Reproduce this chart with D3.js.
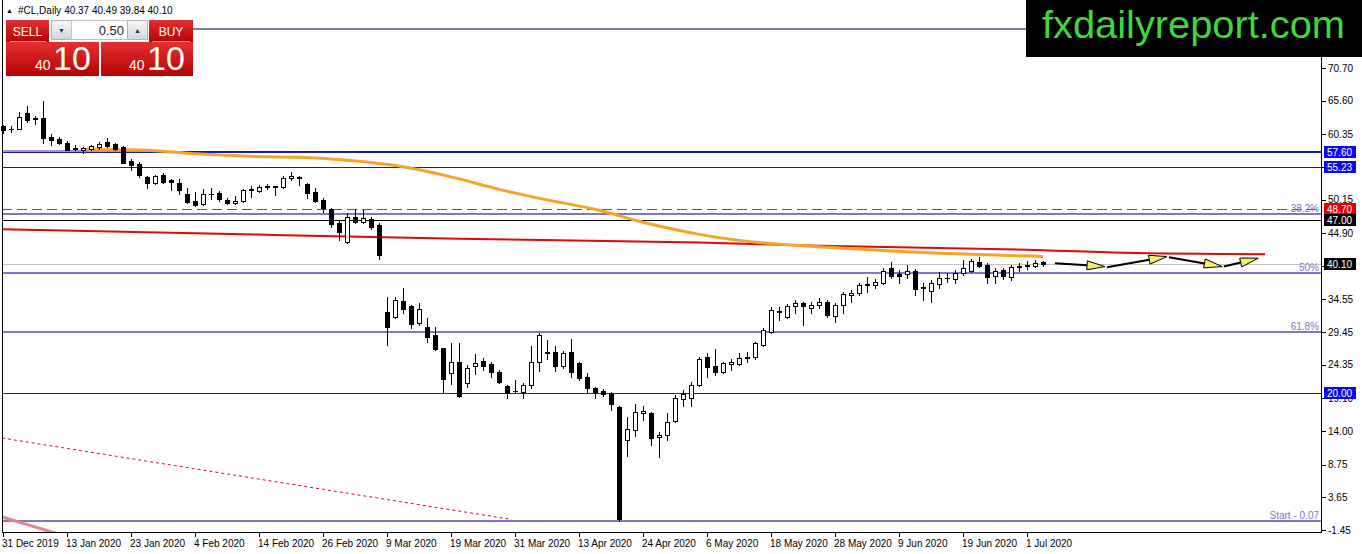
<!DOCTYPE html>
<html>
<head>
<meta charset="utf-8">
<script src="https://cdn.jsdelivr.net/npm/d3@7"></script>
<style>
body { margin: 0; background: #fff; }
text { font-family: "Liberation Sans", Arial, sans-serif; }
</style>
</head>
<body>
<div id="chart"></div>
<script>
// bottom axis labels and the bar they sit on
var tickLabels = ["31 Dec 2019", "13 Jan 2020", "23 Jan 2020", "4 Feb 2020", "14 Feb 2020", "26 Feb 2020",
    "9 Mar 2020", "19 Mar 2020", "31 Mar 2020", "13 Apr 2020", "24 Apr 2020", "6 May 2020",
    "18 May 2020", "28 May 2020", "9 Jun 2020", "19 Jun 2020", "1 Jul 2020"];
var tickBars = [0, 8, 16, 24, 32, 40, 48, 56, 64, 72, 80, 88, 96, 104, 112, 120, 128];

var priceTicks = [70.70, 65.60, 60.35, 55.25, 50.15, 44.90, 39.80, 34.55, 29.45, 24.35, 19.10, 14.00, 8.75, 3.65, -1.45];

// daily candles, #CL
var opens = [61.67, 61.20, 61.20, 63.70, 62.92, 62.92, 59.95, 59.64, 59.02, 58.24, 57.92, 58.08, 58.39, 59.17, 58.86, 58.39,
    56.20, 55.74, 53.70, 52.77, 54.02, 53.23, 52.77, 51.05, 49.95, 49.48, 50.95, 51.20, 50.11, 49.64, 49.95, 51.67,
    51.52, 52.14, 52.30, 52.14, 53.55, 53.70, 52.61, 51.36, 50.11, 48.70, 46.52, 43.55, 47.45, 46.67, 47.14, 46.20,
    32.61, 31.83, 34.33, 33.55, 30.89, 30.27, 29.02, 26.98, 23.08, 24.80, 21.52, 24.17, 24.95, 24.48, 23.23, 21.05,
    20.27, 20.11, 21.20, 24.80, 26.36, 26.36, 24.17, 26.36, 24.64, 22.45, 20.73, 20.27, 19.95, 17.77, 12.61, 14.17,
    16.83, 16.83, 13.08, 13.39, 15.58, 19.02, 19.17, 21.20, 25.58, 24.17, 23.23, 24.48, 24.48, 25.42, 25.58, 27.45,
    29.48, 32.77, 31.83, 33.55, 34.02, 33.23, 33.70, 34.17, 31.98, 33.70, 35.27, 35.58, 36.83, 36.83, 37.14, 39.48,
    38.55, 38.55, 39.02, 36.52, 35.89, 36.98, 37.92, 37.77, 38.70, 39.02, 40.42, 39.95, 38.23, 39.17, 38.08, 39.64,
    39.80, 39.80, 40.37];
var highs = [61.83, 61.67, 63.86, 64.80, 63.24, 65.58, 60.42, 59.95, 59.33, 58.70, 58.39, 58.70, 59.17, 59.80, 59.02, 58.55,
    56.52, 56.05, 53.86, 54.02, 54.33, 53.39, 53.39, 51.98, 51.36, 51.83, 51.98, 51.52, 50.42, 50.73, 51.83, 52.30,
    52.45, 52.61, 52.35, 53.86, 54.48, 53.86, 52.77, 51.98, 50.42, 48.86, 46.98, 48.08, 48.70, 48.55, 47.45, 46.52,
    34.95, 34.95, 36.36, 33.70, 34.02, 31.67, 30.27, 27.05, 27.77, 27.77, 24.33, 26.05, 25.42, 24.80, 23.55, 21.20,
    21.98, 21.52, 27.30, 29.33, 28.23, 27.30, 26.52, 28.39, 24.80, 23.08, 20.89, 20.58, 20.11, 17.92, 16.20, 18.23,
    17.92, 16.98, 13.86, 16.83, 19.64, 20.42, 21.67, 25.58, 26.20, 26.83, 24.80, 25.27, 26.20, 26.36, 27.92, 30.11,
    33.39, 33.39, 33.86, 34.49, 34.17, 34.17, 34.80, 34.49, 34.02, 35.73, 36.05, 37.14, 38.08, 37.77, 39.48, 40.42,
    39.17, 39.95, 39.33, 37.14, 37.61, 38.86, 38.70, 39.17, 40.73, 40.89, 41.20, 40.27, 39.48, 39.48, 39.95, 40.27,
    40.58, 40.73, 40.49];
var lows = [60.58, 60.73, 61.10, 62.30, 61.99, 59.02, 58.70, 58.86, 57.85, 57.92, 57.45, 57.92, 58.08, 58.39, 57.92, 55.80,
    54.80, 53.70, 51.98, 52.61, 52.77, 51.67, 51.05, 49.64, 49.17, 49.33, 50.27, 49.95, 49.48, 49.48, 49.80, 50.58,
    51.36, 51.83, 50.89, 51.98, 53.23, 52.45, 50.42, 49.80, 48.23, 45.89, 43.86, 43.39, 46.52, 46.52, 45.58, 40.89,
    27.45, 31.67, 32.45, 30.11, 30.58, 27.92, 26.67, 20.11, 21.36, 19.33, 20.89, 22.92, 23.55, 22.45, 21.52, 19.17,
    20.11, 19.17, 20.73, 23.39, 25.27, 23.39, 23.86, 22.45, 21.98, 19.95, 19.17, 19.48, 17.30, -0.07, 10.11, 13.23,
    15.73, 11.83, 9.95, 12.61, 15.42, 17.92, 17.92, 21.05, 22.45, 22.77, 23.08, 23.55, 24.33, 24.80, 25.27, 27.30,
    29.33, 31.36, 31.67, 32.45, 30.58, 32.45, 33.23, 31.83, 31.05, 32.45, 34.17, 35.27, 35.73, 36.36, 36.98, 37.92,
    37.14, 37.92, 35.27, 34.49, 34.17, 36.36, 37.30, 37.14, 38.39, 38.86, 39.64, 37.14, 37.14, 37.77, 37.61, 39.02,
    39.33, 39.64, 39.84];
var closes = [61.05, 61.18, 63.08, 62.61, 62.77, 59.80, 59.49, 59.02, 57.92, 58.08, 58.24, 58.55, 58.86, 58.55, 58.08, 55.89,
    55.58, 54.02, 52.77, 53.86, 52.92, 52.92, 51.67, 49.80, 49.33, 51.05, 51.05, 50.27, 49.64, 49.95, 51.67, 51.83,
    52.14, 52.30, 52.14, 53.55, 53.86, 53.55, 51.20, 49.95, 48.86, 46.36, 45.11, 47.45, 46.67, 47.30, 45.89, 41.52,
    30.27, 34.49, 33.08, 30.73, 33.08, 28.70, 26.83, 22.14, 24.80, 19.48, 23.86, 24.64, 24.17, 23.23, 21.67, 19.95,
    20.25, 21.20, 24.80, 29.02, 26.20, 24.17, 26.20, 23.23, 22.30, 20.73, 20.11, 19.80, 18.23, 0.27, 14.33, 16.98,
    17.14, 12.92, 13.39, 15.42, 19.17, 19.80, 21.20, 25.27, 24.02, 23.23, 24.64, 24.80, 25.42, 25.58, 27.77, 29.80,
    32.92, 32.61, 33.55, 34.02, 33.55, 33.70, 34.17, 32.14, 33.70, 35.42, 35.58, 36.83, 36.98, 37.30, 39.02, 38.23,
    38.23, 39.02, 36.20, 36.36, 37.14, 37.92, 37.95, 38.70, 39.48, 40.58, 39.80, 38.08, 39.02, 38.23, 39.64, 39.80,
    39.95, 40.27, 40.10];

// moving averages
var orangeBars = [10, 16, 20, 23, 28, 33, 37, 43, 50, 56, 62, 68, 74, 80, 87, 92, 98, 105, 111, 117, 123, 130];
var orangeValues = [58.00, 57.92, 57.69, 57.38, 57.06, 56.83, 56.75, 56.28, 55.27, 53.70, 51.75, 50.11, 48.63, 46.60,
    44.72, 43.78, 43.08, 42.56, 42.14, 41.78, 41.52, 41.28];
var redBars = [-0.125, 32, 57, 87, 102, 128, 140, 157.75];
var redValues = [45.53, 44.68, 44.05, 43.44, 42.95, 42.32, 41.85, 41.62];

// fibonacci retracement
var fibValues = [76.83, 47.92, 38.70, 29.49, -0.07];
var fibLabels = ["", "38.2%", "50%", "61.8%", "Start - 0.07"];

// horizontal levels
var levelValues = [57.60, 55.23, 48.70, 47.00, 20.00];
var levelKinds = ["blue", "blue", "red", "black", "blue"];
var bidPrice = 40.10;
var mauveLevel = 57.81;

// trend lines: [bar, price] pairs
var dottedTrend = [[-0.125, 12.92], [63.6, 0.19]];
var pinkTrend = [[-0.125, 0.58], [6.75, -2.0]];

// forecast arrows
var arrowFromBars = [131.5, 138.0, 145.75, 152.6];
var arrowFromValues = [40.22, 39.59, 41.16, 39.69];
var arrowToBars = [137.75, 145.5, 152.4, 156.9];
var arrowToValues = [39.69, 41.25, 39.69, 41.00];

var width = 1362;
var height = 554;
var plotRight = 1321;
var plotBottom = 532;

var x = d3.scaleLinear().domain([0, 1]).range([3, 11]);
var y = d3.scaleLinear().domain([-1.45, 70.70]).range([530, 68]);

var svg = d3.select("#chart")
    .append("svg")
    .attr("width", width)
    .attr("height", height)
    .style("display", "block");

svg.append("rect").attr("width", width).attr("height", height).attr("fill", "#fff");

var defs = svg.append("defs");
defs.append("clipPath").attr("id", "plot")
    .append("rect").attr("x", 0).attr("y", 0).attr("width", plotRight).attr("height", plotBottom);

var redGrad = defs.append("linearGradient").attr("id", "redGrad").attr("x1", 0).attr("y1", 0).attr("x2", 0).attr("y2", 1);
redGrad.append("stop").attr("offset", "0%").attr("stop-color", "#e43030");
redGrad.append("stop").attr("offset", "100%").attr("stop-color", "#b40404");
var greyGrad = defs.append("linearGradient").attr("id", "greyGrad").attr("x1", 0).attr("y1", 0).attr("x2", 0).attr("y2", 1);
greyGrad.append("stop").attr("offset", "0%").attr("stop-color", "#f6f6f6");
greyGrad.append("stop").attr("offset", "100%").attr("stop-color", "#d6d6d6");

var plot = svg.append("g").attr("clip-path", "url(#plot)");

function py(v) { return Math.round(y(v)) + 0.5; }

// fib lines
plot.selectAll(".fib")
    .data(fibValues)
    .enter()
    .append("line")
    .attr("x1", function (d, i) { return i === 0 ? 193 : 2; })
    .attr("x2", plotRight)
    .attr("y1", function (d) { return Math.round(y(d)); })
    .attr("y2", function (d) { return Math.round(y(d)); })
    .attr("stroke", "#8074cc")
    .attr("stroke-width", 2);

// levels
var levelColor = { blue: "#1a1ab4", red: "#de1e1e", black: "#000" };
plot.selectAll(".level")
    .data(levelValues)
    .enter()
    .append("line")
    .attr("x1", 2)
    .attr("x2", plotRight)
    .attr("y1", function (d) { return d === 57.60 ? Math.round(y(d)) : py(d); })
    .attr("y2", function (d) { return d === 57.60 ? Math.round(y(d)) : py(d); })
    .attr("stroke", function (d, i) { return levelColor[levelKinds[i]]; })
    .attr("stroke-width", function (d) { return d === 57.60 ? 2 : 1; })
    .attr("stroke-dasharray", function (d, i) { return levelKinds[i] === "red" ? "10,5" : null; });

plot.append("line")
    .attr("x1", 2).attr("x2", plotRight)
    .attr("y1", py(bidPrice)).attr("y2", py(bidPrice))
    .attr("stroke", "#c4c4c4");

plot.append("line")
    .attr("x1", 2).attr("x2", x(19.6))
    .attr("y1", Math.round(y(mauveLevel))).attr("y2", Math.round(y(mauveLevel)))
    .attr("stroke", "#a890c2")
    .attr("stroke-width", 2);

var trendLine = d3.line()
    .x(function (d) { return x(d[0]); })
    .y(function (d) { return y(d[1]); });

plot.append("path")
    .attr("d", trendLine(dottedTrend))
    .attr("fill", "none")
    .attr("stroke", "#c8102e")
    .attr("stroke-dasharray", "3,3");

plot.append("path")
    .attr("d", trendLine(pinkTrend))
    .attr("fill", "none")
    .attr("stroke", "#e0868e")
    .attr("stroke-width", 3);

// moving averages
var maLine = d3.line()
    .x(function (d) { return x(d[0]); })
    .y(function (d) { return y(d[1]); })
    .curve(d3.curveMonotoneX);

plot.append("path")
    .attr("d", maLine(redBars.map(function (b, i) { return [b, redValues[i]]; })))
    .attr("fill", "none")
    .attr("stroke", "#dd0a0a")
    .attr("stroke-width", 2);

plot.append("path")
    .attr("d", maLine(orangeBars.map(function (b, i) { return [b, orangeValues[i]]; })))
    .attr("fill", "none")
    .attr("stroke", "#f4a426")
    .attr("stroke-width", 3);

// candles
var candles = opens.map(function (o, i) {
    return { bar: i, open: o, high: highs[i], low: lows[i], close: closes[i] };
});

var cg = plot.selectAll(".candle")
    .data(candles)
    .enter()
    .append("g")
    .attr("class", "candle");

cg.append("line")
    .attr("x1", function (d) { return Math.round(x(d.bar)) + 0.5; })
    .attr("x2", function (d) { return Math.round(x(d.bar)) + 0.5; })
    .attr("y1", function (d) { return Math.round(y(d.high)); })
    .attr("y2", function (d) { return Math.round(y(d.low)) + 1; })
    .attr("stroke", "#000");

cg.each(function (d) {
    var g = d3.select(this);
    var cx = Math.round(x(d.bar));
    var yo = Math.round(y(d.open));
    var yc = Math.round(y(d.close));
    var top = Math.min(yo, yc);
    var h = Math.abs(yo - yc);
    if (h < 1) {
        g.append("line")
            .attr("x1", cx - 2).attr("x2", cx + 3)
            .attr("y1", top + 0.5).attr("y2", top + 0.5)
            .attr("stroke", "#000");
    } else if (d.close < d.open) {
        g.append("rect")
            .attr("x", cx - 2).attr("y", top)
            .attr("width", 5).attr("height", h + 1)
            .attr("fill", "#000");
    } else {
        g.append("rect")
            .attr("x", cx - 1.5).attr("y", top + 0.5)
            .attr("width", 4).attr("height", h)
            .attr("fill", "#fff")
            .attr("stroke", "#000");
    }
});

// arrows
arrowFromBars.forEach(function (b, i) {
    var x0 = x(b), y0 = y(arrowFromValues[i]);
    var x1 = x(arrowToBars[i]), y1 = y(arrowToValues[i]);
    var ang = Math.atan2(y1 - y0, x1 - x0);
    var len = 18, half = 4.5;
    var bx = x1 - len * Math.cos(ang), by = y1 - len * Math.sin(ang);
    plot.append("line")
        .attr("x1", x0).attr("y1", y0).attr("x2", bx).attr("y2", by)
        .attr("stroke", "#000").attr("stroke-width", 2);
    var pts = [
        [x1, y1],
        [bx + half * Math.sin(ang), by - half * Math.cos(ang)],
        [bx - half * Math.sin(ang), by + half * Math.cos(ang)]
    ];
    plot.append("polygon")
        .attr("points", pts.map(function (p) { return p.join(","); }).join(" "))
        .attr("fill", "#f2f06a")
        .attr("stroke", "#000")
        .attr("stroke-width", 1);
});

// fib labels
svg.selectAll(".fibLabel")
    .data(fibValues)
    .enter()
    .append("text")
    .attr("x", 1319)
    .attr("y", function (d) { return Math.round(y(d)) - 2; })
    .attr("text-anchor", "end")
    .attr("font-size", 10)
    .attr("fill", "#8074cc")
    .text(function (d, i) { return fibLabels[i]; });

// frame and axes
svg.append("line").attr("x1", 2.5).attr("x2", 2.5).attr("y1", 0).attr("y2", plotBottom).attr("stroke", "#000");
svg.append("line").attr("x1", plotRight + 0.5).attr("x2", plotRight + 0.5).attr("y1", 0).attr("y2", plotBottom + 1).attr("stroke", "#000");
svg.append("line").attr("x1", 2).attr("x2", plotRight + 1).attr("y1", plotBottom + 0.5).attr("y2", plotBottom + 0.5).attr("stroke", "#000");

svg.selectAll(".ptick")
    .data(priceTicks)
    .enter()
    .append("line")
    .attr("x1", plotRight + 1).attr("x2", plotRight + 5)
    .attr("y1", py).attr("y2", py)
    .attr("stroke", "#000");

svg.selectAll(".plabel")
    .data(priceTicks)
    .enter()
    .append("text")
    .attr("x", 1328)
    .attr("y", function (d) { return y(d) + 3.5; })
    .attr("font-size", 10)
    .attr("fill", "#000")
    .text(function (d) { return d.toFixed(2); });

svg.selectAll(".dtick")
    .data(tickBars)
    .enter()
    .append("line")
    .attr("x1", function (d) { return Math.round(x(d)) + 0.5; })
    .attr("x2", function (d) { return Math.round(x(d)) + 0.5; })
    .attr("y1", plotBottom).attr("y2", plotBottom + 5)
    .attr("stroke", "#000");

svg.selectAll(".dlabel")
    .data(tickBars)
    .enter()
    .append("text")
    .attr("x", function (d) { return x(d) - 1; })
    .attr("y", 547)
    .attr("font-size", 10)
    .attr("fill", "#000")
    .text(function (d, i) { return tickLabels[i]; });

// price tags on the right
var tagFill = { blue: "#0a0aee", red: "#e60000", black: "#000" };
var tags = levelValues.map(function (v, i) { return { value: v, kind: levelKinds[i] }; });
tags.push({ value: bidPrice, kind: "black" });

var tg = svg.selectAll(".tag")
    .data(tags)
    .enter()
    .append("g");
tg.append("rect")
    .attr("x", 1324)
    .attr("y", function (d) { return Math.round(y(d.value)) - 6; })
    .attr("width", 32)
    .attr("height", 12)
    .attr("fill", function (d) { return tagFill[d.kind]; });
tg.append("text")
    .attr("x", 1327)
    .attr("y", function (d) { return Math.round(y(d.value)) + 4; })
    .attr("font-size", 10)
    .attr("fill", "#fff")
    .text(function (d) { return d.value.toFixed(2); });

// header
svg.append("text").attr("x", 6).attr("y", 13).attr("font-size", 7).attr("fill", "#000").text("\u25B2");
svg.append("text").attr("x", 18).attr("y", 14).attr("font-size", 10).attr("fill", "#000")
    .text("#CL,Daily  " + [opens[130], highs[130], lows[130], closes[130]].map(function (v) { return v.toFixed(2); }).join(" "));

// one-click trading panel
var panel = svg.append("g");
panel.append("rect").attr("x", 6).attr("y", 20).attr("width", 43).attr("height", 22).attr("fill", "url(#redGrad)");
panel.append("rect").attr("x", 149).attr("y", 20).attr("width", 44).attr("height", 22).attr("fill", "url(#redGrad)");
panel.append("rect").attr("x", 6).attr("y", 42).attr("width", 93).attr("height", 34).attr("fill", "url(#redGrad)");
panel.append("rect").attr("x", 101).attr("y", 42).attr("width", 92).attr("height", 34).attr("fill", "url(#redGrad)");
panel.append("line").attr("x1", 10).attr("x2", 46).attr("y1", 41.5).attr("y2", 41.5).attr("stroke", "#ee8a8a");
panel.append("line").attr("x1", 152).attr("x2", 190).attr("y1", 41.5).attr("y2", 41.5).attr("stroke", "#ee8a8a");
panel.append("rect").attr("x", 51.5).attr("y", 20.5).attr("width", 20).attr("height", 19).attr("fill", "url(#greyGrad)").attr("stroke", "#b4b4b4");
panel.append("rect").attr("x", 71.5).attr("y", 20.5).attr("width", 56).attr("height", 19).attr("fill", "#fff").attr("stroke", "#c4c4c4");
panel.append("rect").attr("x", 127.5).attr("y", 20.5).attr("width", 20).attr("height", 19).attr("fill", "url(#greyGrad)").attr("stroke", "#b4b4b4");
panel.append("text").attr("x", 61.5).attr("y", 33).attr("text-anchor", "middle").attr("font-size", 7).attr("fill", "#333").text("\u25BC");
panel.append("text").attr("x", 137.5).attr("y", 33).attr("text-anchor", "middle").attr("font-size", 7).attr("fill", "#333").text("\u25B2");
panel.append("text").attr("x", 124).attr("y", 35).attr("text-anchor", "end").attr("font-size", 13).attr("fill", "#222").text("0.50");
panel.append("text").attr("x", 27.5).attr("y", 35.5).attr("text-anchor", "middle").attr("font-size", 12).attr("fill", "#fff").text("SELL");
panel.append("text").attr("x", 171).attr("y", 35.5).attr("text-anchor", "middle").attr("font-size", 12).attr("fill", "#fff").text("BUY");
panel.append("text").attr("x", 35).attr("y", 70).attr("font-size", 14).attr("fill", "#fff").text("40");
panel.append("text").attr("x", 53).attr("y", 70).attr("font-size", 34).attr("fill", "#fff").text("10");
panel.append("text").attr("x", 129).attr("y", 70).attr("font-size", 14).attr("fill", "#fff").text("40");
panel.append("text").attr("x", 147).attr("y", 70).attr("font-size", 34).attr("fill", "#fff").text("10");

// site banner
svg.append("rect").attr("x", 1026).attr("y", 0).attr("width", 336).attr("height", 57).attr("fill", "#000");
svg.append("text")
    .attr("x", 1042)
    .attr("y", 38)
    .attr("font-size", 39)
    .attr("textLength", 303)
    .attr("lengthAdjust", "spacingAndGlyphs")
    .attr("fill", "#3fd83a")
    .text("fxdailyreport.com");
</script>
</body>
</html>
